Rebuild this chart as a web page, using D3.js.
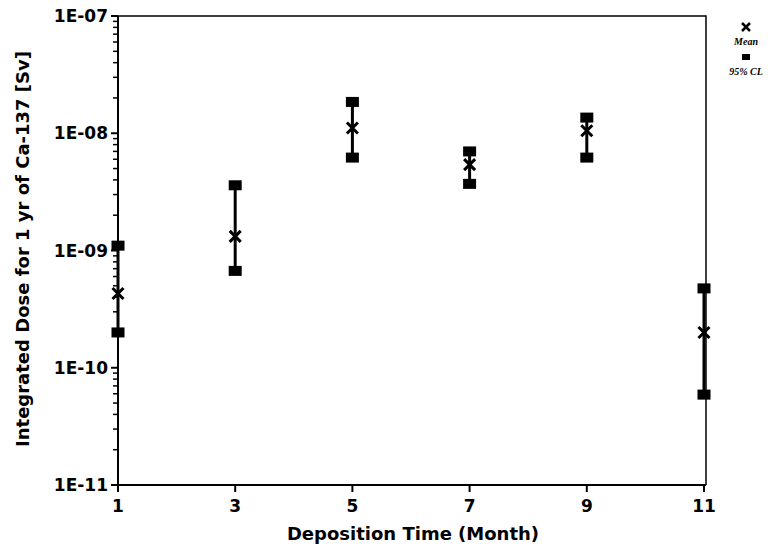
<!DOCTYPE html>
<html><head><meta charset="utf-8">
<script src="https://cdn.jsdelivr.net/npm/d3@7"></script>
<style>body{margin:0;background:#fff;} svg{display:block;}</style>
</head><body>
<svg id="c" width="773" height="551"></svg>
<script>
const months = [1, 3, 5, 7, 9, 11];
const meanDose = [4.3e-10, 1.32e-9, 1.11e-8, 5.4e-9, 1.05e-8, 2.0e-10];
const upperCL = [1.1e-9, 3.6e-9, 1.85e-8, 7.0e-9, 1.36e-8, 4.75e-10];
const lowerCL = [2.0e-10, 6.7e-10, 6.2e-9, 3.7e-9, 6.2e-9, 5.9e-11];
const xTicks = [1, 3, 5, 7, 9, 11];
const yTicks = [1e-11, 1e-10, 1e-9, 1e-8, 1e-7];
const yTickLabels = ["1E-11", "1E-10", "1E-09", "1E-08", "1E-07"];

const svg = d3.select("#c");
const L = 118, R = 706, T = 16, B = 485;
const x = d3.scaleLinear().domain([1, 11]).range([L, R - 2]);
const y = d3.scaleLog().domain([1e-11, 1e-7]).range([B, T]);
const font = "'DejaVu Sans', 'Liberation Sans', Arial, sans-serif";

// frame top/right
svg.append("path").attr("d", `M${L},${T}H${R}V${B}`).attr("fill","none").attr("stroke","#000").attr("stroke-width",1.5);

// y axis
const minor = [];
for (let e = -11; e < -7; e++) for (let m = 2; m <= 9; m++) minor.push(m * Math.pow(10, e));
const yAxis = svg.append("g").attr("transform", `translate(${L},0)`);
yAxis.append("line").attr("x1",0).attr("x2",0).attr("y1",T).attr("y2",B).attr("stroke","#000").attr("stroke-width",2);
yAxis.selectAll("line.mn").data(minor).join("line").attr("class","mn")
  .attr("x1",-5).attr("x2",0).attr("y1",d=>y(d)).attr("y2",d=>y(d)).attr("stroke","#000").attr("stroke-width",1.5);
yAxis.selectAll("line.mj").data(yTicks).join("line").attr("class","mj")
  .attr("x1",-7).attr("x2",0).attr("y1",d=>y(d)).attr("y2",d=>y(d)).attr("stroke","#000").attr("stroke-width",2);
yAxis.selectAll("text").data(yTicks).join("text")
  .attr("x",-10).attr("y",d=>y(d)).attr("dy","0.36em").attr("text-anchor","end")
  .attr("font-family",font).attr("font-weight","bold").attr("font-size",17)
  .text((d,i)=>yTickLabels[i]);

// x axis
const xAxis = svg.append("g").attr("transform", `translate(0,${B})`);
xAxis.append("line").attr("x1",L).attr("x2",R).attr("y1",0).attr("y2",0).attr("stroke","#000").attr("stroke-width",2);
xAxis.selectAll("line.t").data(xTicks).join("line").attr("class","t")
  .attr("x1",d=>x(d)).attr("x2",d=>x(d)).attr("y1",0).attr("y2",7).attr("stroke","#000").attr("stroke-width",2);
xAxis.selectAll("text").data(xTicks).join("text")
  .attr("x",d=>x(d)).attr("y",27).attr("text-anchor","middle")
  .attr("font-family",font).attr("font-weight","bold").attr("font-size",17)
  .text(d=>d);

// axis titles
svg.append("text").attr("x",413).attr("y",540).attr("text-anchor","middle")
  .attr("font-family",font).attr("font-weight","bold").attr("font-size",18)
  .text("Deposition Time (Month)");
svg.append("text").attr("transform","translate(29,249) rotate(-90)").attr("text-anchor","middle")
  .attr("font-family",font).attr("font-weight","bold").attr("font-size",18)
  .text("Integrated Dose for 1 yr of Ca-137 [Sv]");

// data
const data = months.map((m,i)=>({m, mean:meanDose[i], hi:upperCL[i], lo:lowerCL[i]}));
const g = svg.append("g");
g.selectAll("line.err").data(data).join("line").attr("class","err")
  .attr("x1",d=>x(d.m)).attr("x2",d=>x(d.m)).attr("y1",d=>y(d.hi)).attr("y2",d=>y(d.lo))
  .attr("stroke","#000").attr("stroke-width",3);
const sq = [];
data.forEach(d=>{sq.push({m:d.m,v:d.hi});sq.push({m:d.m,v:d.lo});});
g.selectAll("rect").data(sq).join("rect")
  .attr("x",d=>x(d.m)-6.5).attr("y",d=>y(d.v)-5).attr("width",13).attr("height",10).attr("fill","#000");
const xs = 5.5;
g.selectAll("path.mx").data(data).join("path").attr("class","mx")
  .attr("d",d=>{const cx=x(d.m), cy=y(d.mean); return `M${cx-xs},${cy-xs}L${cx+xs},${cy+xs}M${cx-xs},${cy+xs}L${cx+xs},${cy-xs}`;})
  .attr("stroke","#000").attr("stroke-width",3);

// legend
const lg = svg.append("g");
const lx = 746;
lg.append("path").attr("d",`M${lx-4},${23}L${lx+4},${31}M${lx-4},${31}L${lx+4},${23}`).attr("stroke","#000").attr("stroke-width",2.5);
lg.append("text").attr("x",lx).attr("y",45).attr("text-anchor","middle")
  .attr("font-family","'Liberation Serif', 'Times New Roman', serif").attr("font-style","italic").attr("font-weight","bold").attr("font-size",10)
  .text("Mean");
lg.append("rect").attr("x",lx-4).attr("y",54).attr("width",8).attr("height",6).attr("fill","#000");
lg.append("text").attr("x",lx).attr("y",75).attr("text-anchor","middle")
  .attr("font-family","'Liberation Serif', 'Times New Roman', serif").attr("font-style","italic").attr("font-weight","bold").attr("font-size",10)
  .text("95% CL");
</script>
</body></html>
